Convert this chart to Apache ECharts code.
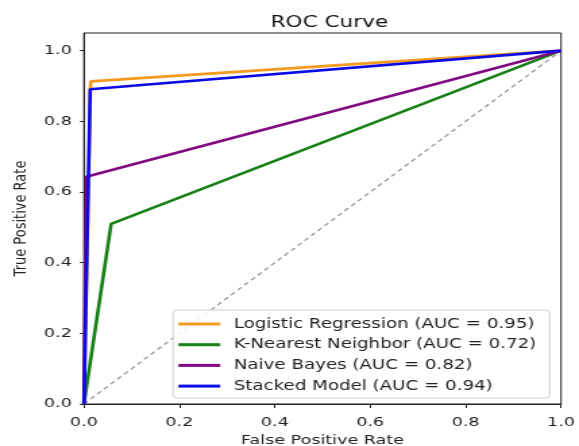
<!DOCTYPE html>
<html><head><meta charset="utf-8">
<script src="https://cdn.jsdelivr.net/npm/echarts@6/dist/echarts.min.js"></script>
<style>
html,body{margin:0;padding:0;background:#fff;overflow:hidden}
#wrap{width:579px;height:446px;overflow:hidden}
#c{width:429px;height:446px;transform:scaleX(1.34965);transform-origin:0 0}
</style>
</head><body><div id="wrap"><div id="c"></div></div>
<script>
const seriesNames = ['Logistic Regression (AUC = 0.95)','K-Nearest Neighbor (AUC = 0.72)','Naive Bayes (AUC = 0.82)','Stacked Model (AUC = 0.94)'];
const lrPoints = [[0,0],[0.014,0.913],[1,1]];
const knnPoints = [[0,0],[0.057,0.51],[1,1]];
const nbPoints = [[0,0],[0.005,0.643],[1,1]];
const stackedPoints = [[0,0],[0.013,0.891],[1,1]];
const diagonalPoints = [[0,0],[1,1]];
const tickValues = [0,0.2,0.4,0.6,0.8,1.0];
const colors = ['#f59a1f','#167f16','#800a80','#0a0ae6'];
const font = 'DejaVu Sans';
const chart = echarts.init(document.getElementById('c'));
const allData = [lrPoints, knnPoints, nbPoints, stackedPoints];
const series = allData.map((d,i)=>({
  name: seriesNames[i], type:'line', data:d, symbol:'none', animation:false,
  lineStyle:{color:colors[i], width:2.6}, itemStyle:{color:colors[i]}, z:3+i
}));
series.push({name:'diag', type:'line', data:diagonalPoints, symbol:'none', animation:false,
  lineStyle:{color:'#888', width:1.1, type:[4,3]}, z:2, silent:true});
chart.setOption({
  animation:false,
  title:{text:'ROC Curve', left:239, top:10, textAlign:'center',
    textStyle:{fontFamily:font, fontSize:16, fontWeight:'normal', color:'#111'}},
  grid:{left:62.2, right:13.3, top:33, bottom:42, show:true, borderColor:'#222', borderWidth:1, backgroundColor:'transparent', containLabel:false, outerBoundsMode:'none'},
  xAxis:{type:'value', min:0, max:1, interval:0.2,
    name:'False Positive Rate', nameLocation:'middle', nameGap:27,
    nameTextStyle:{fontFamily:font, fontSize:13, color:'#222'},
    axisLine:{show:true, onZero:false, lineStyle:{color:'#222'}},
    axisTick:{show:true, length:4, lineStyle:{color:'#222'}},
    axisLabel:{fontFamily:font, fontSize:13, color:'#222', margin:12, formatter:v=>v.toFixed(1)},
    splitLine:{show:false}},
  yAxis:{type:'value', min:0, max:1.05,
    name:'True Positive Rate', nameLocation:'middle', nameGap:39.5,
    nameTextStyle:{fontFamily:font, fontSize:13, color:'#222'},
    axisLine:{show:true, onZero:false, lineStyle:{color:'#222'}},
    axisTick:{show:true, length:3, customValues:tickValues, lineStyle:{color:'#222'}},
    axisLabel:{fontFamily:font, fontSize:13, color:'#222', margin:9, customValues:tickValues, formatter:v=>v.toFixed(1)},
    splitLine:{show:false}},
  legend:{data:seriesNames, orient:'vertical', left:128.2, top:310,
    padding:[7,10,5,4], itemGap:6.7, itemWidth:31, itemHeight:14,
    backgroundColor:'rgba(255,255,255,0.85)', borderColor:'#d0d0d0', borderWidth:1, borderRadius:3,
    textStyle:{fontFamily:font, fontSize:13.5, color:'#222', padding:[0,0,0,5]},
    icon:'path://M0,0 L31,0 L31,3 L0,3 Z'},
  series: series
});
</script></body></html>
